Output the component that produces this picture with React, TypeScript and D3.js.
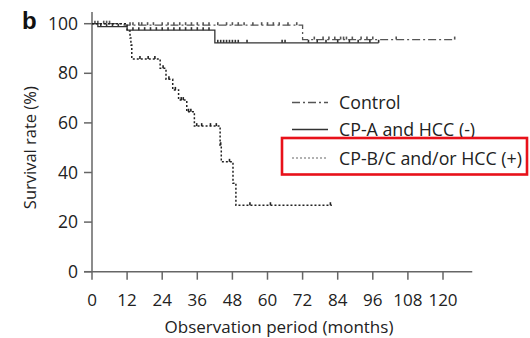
import React from "react";
import * as d3 from "d3";

// Kaplan–Meier step points: [month, survival %]
const controlSteps: [number, number][] = [[0, 100], [11, 99.4], [72, 93.6]];
const controlEnd = 124;
const controlCensor = [1, 2, 4, 5, 6, 13, 14, 16, 17, 19, 21, 24, 26, 28, 30, 32, 34, 36, 38, 40, 43, 46, 48, 50, 52, 55, 58, 60, 62, 64, 67, 70, 76, 79, 81, 83, 85, 86, 87, 89, 92, 94, 96, 104, 124];

const cpaSteps: [number, number][] = [[0, 100], [2, 98.8], [12, 97.4], [42, 92.3]];
const cpaEnd = 98;
const cpaCensor = [3, 5, 7, 9, 14, 16, 18, 20, 22, 24, 26, 28, 30, 32, 34, 36, 38, 40, 43, 44, 45, 46, 47, 48, 49, 50, 53, 65, 66, 74, 77, 80, 84, 88, 91, 95, 98];

const cpbSteps: [number, number][] = [
  [0, 100], [12, 97.1], [13, 94.2], [13.3, 91.4], [13.6, 85.8], [23.3, 82], [25.3, 77.6],
  [27.6, 73.3], [29.6, 69.2], [32.4, 64.5], [35, 58.7], [43.8, 51], [44.2, 44.3],
  [48.2, 35.7], [49.2, 26.8],
];
const cpbEnd = 82;
const cpbCensor = [16.4, 19.2, 21.5, 24.3, 26.3, 28.5, 30.5, 31.2, 33, 33.8, 35.8, 37.5, 40.5, 42.5, 44, 47, 54, 61, 81.5];

const xTicks = [0, 12, 24, 36, 48, 60, 72, 84, 96, 108, 120];
const yTicks = [0, 20, 40, 60, 80, 100];

const legendLabels = ["Control", "CP-A and HCC (-)", "CP-B/C and/or HCC (+)"];

const FONT = "'Open Sans', 'Noto Sans', sans-serif";

export default function App() {
  const x = d3.scaleLinear().domain([0, 120]).range([92, 443]);
  const y = d3.scaleLinear().domain([0, 100]).range([271.7, 23.7]);

  const line = d3
    .line<[number, number]>()
    .x((d) => x(d[0]))
    .y((d) => y(d[1]))
    .curve(d3.curveStepAfter);

  const withEnd = (steps: [number, number][], end: number): [number, number][] => [
    ...steps,
    [end, steps[steps.length - 1][1]],
  ];

  const survAt = (steps: [number, number][], t: number) => {
    let v = steps[0][1];
    for (const s of steps) if (s[0] <= t) v = s[1];
    return v;
  };

  const series = [
    { steps: controlSteps, end: controlEnd, censor: controlCensor, color: "#555", dash: "8,3,2,3", width: 1.3 },
    { steps: cpaSteps, end: cpaEnd, censor: cpaCensor, color: "#333", dash: "", width: 1.3 },
    { steps: cpbSteps, end: cpbEnd, censor: cpbCensor, color: "#222", dash: "2,2", width: 1.5 },
  ];

  const axisColor = "#666";

  return (
    <svg width={530} height={338} style={{ position: "absolute", left: 0, top: 0 }} fontFamily={FONT}>
      <rect width={530} height={338} fill="#fff" />
      <text x={22} y={29} fontSize={24} fontWeight="bold" fontFamily="'Liberation Sans', Arial, sans-serif" fill="#111">b</text>

      {/* axes */}
      <line x1={x(0)} x2={x(0)} y1={12} y2={y(0)} stroke={axisColor} strokeWidth={1.5} />
      <line x1={84} x2={x(130)} y1={y(0)} y2={y(0)} stroke={axisColor} strokeWidth={1.5} />
      {yTicks.map((t) => (
        <g key={"y" + t}>
          <line x1={84} x2={x(0)} y1={y(t)} y2={y(t)} stroke={axisColor} strokeWidth={1.5} />
          <text x={78} y={y(t)} dy="0.35em" textAnchor="end" fontSize={17.5} fill="#222">{t}</text>
        </g>
      ))}
      {xTicks.map((t) => (
        <g key={"x" + t}>
          <line x1={x(t)} x2={x(t)} y1={y(0)} y2={y(0) + 8} stroke={axisColor} strokeWidth={1.5} />
          <text x={x(t)} y={300} dy="0.35em" textAnchor="middle" fontSize={17} fill="#222">{t}</text>
        </g>
      ))}
      <text x={279} y={327} dy="0.35em" textAnchor="middle" fontSize={17} fill="#222">Observation period (months)</text>
      <text transform={`translate(30,${y(50)}) rotate(-90)`} dy="0.35em" textAnchor="middle" fontSize={16.5} fill="#222">Survival rate (%)</text>

      {/* survival curves */}
      {series.map((s, i) => (
        <g key={"s" + i}>
          <path d={line(withEnd(s.steps, s.end)) || ""} fill="none" stroke={s.color} strokeWidth={s.width} strokeDasharray={s.dash} />
          {s.censor.map((c, j) => (
            <line key={j} x1={x(c)} x2={x(c)} y1={y(survAt(s.steps, c))} y2={y(survAt(s.steps, c)) - 3} stroke={s.color} strokeWidth={1.6} />
          ))}
        </g>
      ))}

      {/* legend */}
      {series.map((s, i) => {
        const ly = [102.5, 129.5, 158][i];
        return (
          <g key={"l" + i}>
            <line x1={292} x2={328} y1={ly} y2={ly} stroke={i === 2 ? "#999" : s.color} strokeWidth={1.3} strokeDasharray={s.dash} />
            <text x={339} y={ly + 0.5} dy="0.35em" fontSize={17.8} fill="#222">{legendLabels[i]}</text>
          </g>
        );
      })}
      <rect x={282} y={138} width={245} height={36.5} fill="none" stroke="#e8111a" strokeWidth={2.6} />
    </svg>
  );
}
